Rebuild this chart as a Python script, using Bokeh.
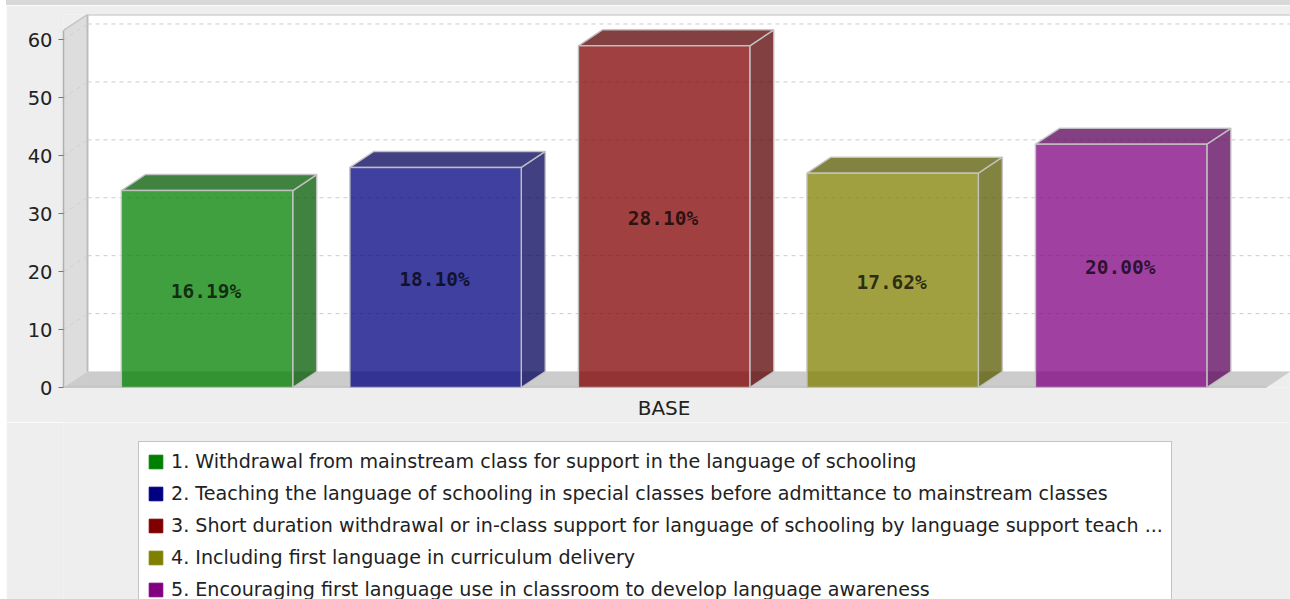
from bokeh.plotting import figure
from bokeh.layouts import column
from bokeh.models import Range1d, LinearAxis, FixedTicker, Legend, LegendItem, ColumnDataSource, Div
from bokeh.embed import file_html
from bokeh.resources import INLINE
from bokeh.core.properties import value

# --- data ---
series_names = [
    "1. Withdrawal from mainstream class for support in the language of schooling",
    "2. Teaching the language of schooling in special classes before admittance to mainstream classes",
    "3. Short duration withdrawal or in-class support for language of schooling by language support teach ...",
    "4. Including first language in curriculum delivery",
    "5. Encouraging first language use in classroom to develop language awareness",
]
counts = [34, 38, 59, 37, 42]
pct_labels = ["16.19%", "18.10%", "28.10%", "17.62%", "20.00%"]
front_colors = ["#008000", "#000080", "#800000", "#808000", "#800080"]
dark_colors = ["#005a00", "#00005a", "#5a0000", "#5a5a00", "#5a005a"]
y_ticks = [0, 10, 20, 30, 40, 50, 60]
category = ["BASE"]

# --- 3D geometry in data units ---
BAR_W = 0.75
DX = 0.105      # depth offset along x
DY = 2.76       # depth offset along y
X0, X1 = -0.628, 4.741
Y1 = 64.4
WALL_TOP = Y1 - DY
FLOOR_RIGHT = X1 - DX
EDGE = "#c4c4c4"
FONT = "DejaVu Sans"
PANEL = "#eeeeee"

band = Div(text="", width=1284, height=5, margin=(0, 0, 0, 6), styles={"background": "#d8d8d8"})

p = figure(frame_width=1227, frame_height=373, min_border_left=57, min_border_right=0,
           min_border_top=9, min_border_bottom=33, width=1284, height=415,
           x_range=Range1d(X0, X1), y_range=Range1d(0, Y1),
           toolbar_location=None, output_backend="svg", x_axis_location=None, y_axis_location=None,
           background_fill_color=PANEL, border_fill_color=PANEL,
           outline_line_color=None, margin=(0, 0, 0, 6))
p.xgrid.visible = False
p.ygrid.visible = False

# back wall, side wall, floor
p.quad(left=[X0 + DX], right=[X1], bottom=[DY], top=[Y1], fill_color="white", line_color=None)
p.patch([X0, X0 + DX, X0 + DX, X0], [0, DY, Y1, WALL_TOP], fill_color="#dddddd", line_color=None)
p.patch([X0, X0 + DX, X1, FLOOR_RIGHT], [0, DY, DY, 0], fill_color="#cccccc", line_color=None)
p.line([X0 + DX, X0 + DX, X1], [DY, Y1, Y1], line_color="#bcbcbc", line_width=2)
p.line([X0, X0 + DX], [WALL_TOP, Y1], line_color="#c4c4c4", line_width=1.5)
p.line([X0, FLOOR_RIGHT], [0, 0], line_color="#aaaaaa", line_width=1.5)

# grid on the wall and back
for t in y_ticks[1:]:
    p.line([X0, X0 + DX], [t, t + DY], line_color="#cfcfcf", line_dash="4 4", line_width=1)
    p.line([X0 + DX, X1], [t + DY, t + DY], line_color="#cccccc", line_dash="4 4", line_width=1)

# bars
for i, (v, c, d) in enumerate(zip(counts, front_colors, dark_colors)):
    l, r = i - BAR_W / 2, i + BAR_W / 2
    p.patch([r, r + DX, r + DX, r], [0, DY, v + DY, v], fill_color=d, fill_alpha=0.75,
            line_color=EDGE, line_alpha=0.9, line_width=1.5)
    p.patch([l, l + DX, r + DX, r], [v, v + DY, v + DY, v], fill_color=d, fill_alpha=0.75,
            line_color=EDGE, line_alpha=0.9, line_width=1.5)
    p.quad(left=[l], right=[r], bottom=[0], top=[v], fill_color=c, fill_alpha=0.75,
           line_color=EDGE, line_alpha=0.9, line_width=1.5)

# value labels
src = ColumnDataSource(dict(x=list(range(5)), y=[v / 2 for v in counts], t=pct_labels))
p.text(x="x", y="y", text="t", source=src, text_align="center", text_baseline="middle",
       x_offset=-1, y_offset=2,
       text_font=value("DejaVu Sans Mono"), text_font_style="bold", text_font_size="19.5px",
       text_color="black", text_alpha=0.72)

# axes
yaxis = LinearAxis(ticker=FixedTicker(ticks=y_ticks), bounds=(0, WALL_TOP))
yaxis.axis_line_color = "#b0b0b0"
yaxis.axis_line_width = 1.5
yaxis.major_tick_line_color = "#777777"
yaxis.major_tick_out = 5
yaxis.major_tick_in = 0
yaxis.minor_tick_line_color = None
yaxis.major_label_text_font = FONT
yaxis.major_label_text_font_size = "19.5px"
yaxis.major_label_text_color = "#222222"
yaxis.major_label_standoff = 6
p.add_layout(yaxis, "left")

xaxis = LinearAxis(ticker=FixedTicker(ticks=[2]), major_label_overrides={2: category[0]})
xaxis.axis_line_color = None
xaxis.major_tick_line_color = None
xaxis.minor_tick_line_color = None
xaxis.major_label_text_font = FONT
xaxis.major_label_text_font_size = "20px"
xaxis.major_label_text_color = "#222222"
xaxis.major_label_standoff = 2
p.add_layout(xaxis, "below")

# legend in its own panel under the plot
q = figure(width=1284, height=179, min_border=0, x_range=Range1d(0, 1), y_range=Range1d(0, 1),
           toolbar_location=None, output_backend="svg", x_axis_location=None, y_axis_location=None,
           background_fill_color=PANEL, border_fill_color=PANEL,
           outline_line_color=None, margin=(0, 0, 0, 6))
q.xgrid.visible = False
q.ygrid.visible = False
items = []
for name, c in zip(series_names, front_colors):
    r = q.quad(left=[float("nan")], right=[float("nan")], bottom=[float("nan")], top=[float("nan")],
               fill_color=c, line_color=c)
    items.append(LegendItem(label=name, renderers=[r]))
legend = Legend(items=items, location=(75, -9), orientation="vertical",
                glyph_width=17, glyph_height=17, label_standoff=7, spacing=9,
                padding=8, margin=0, label_text_font=FONT, label_text_font_size="19.1px",
                label_text_color="#222222", label_height=18,
                border_line_color="#888888", border_line_width=1.5,
                background_fill_color="white", background_fill_alpha=1)
q.add_layout(legend, "center")

page = column(band, p, q, spacing=0, margin=0)
open("out.html", "w").write(file_html(page, INLINE))
